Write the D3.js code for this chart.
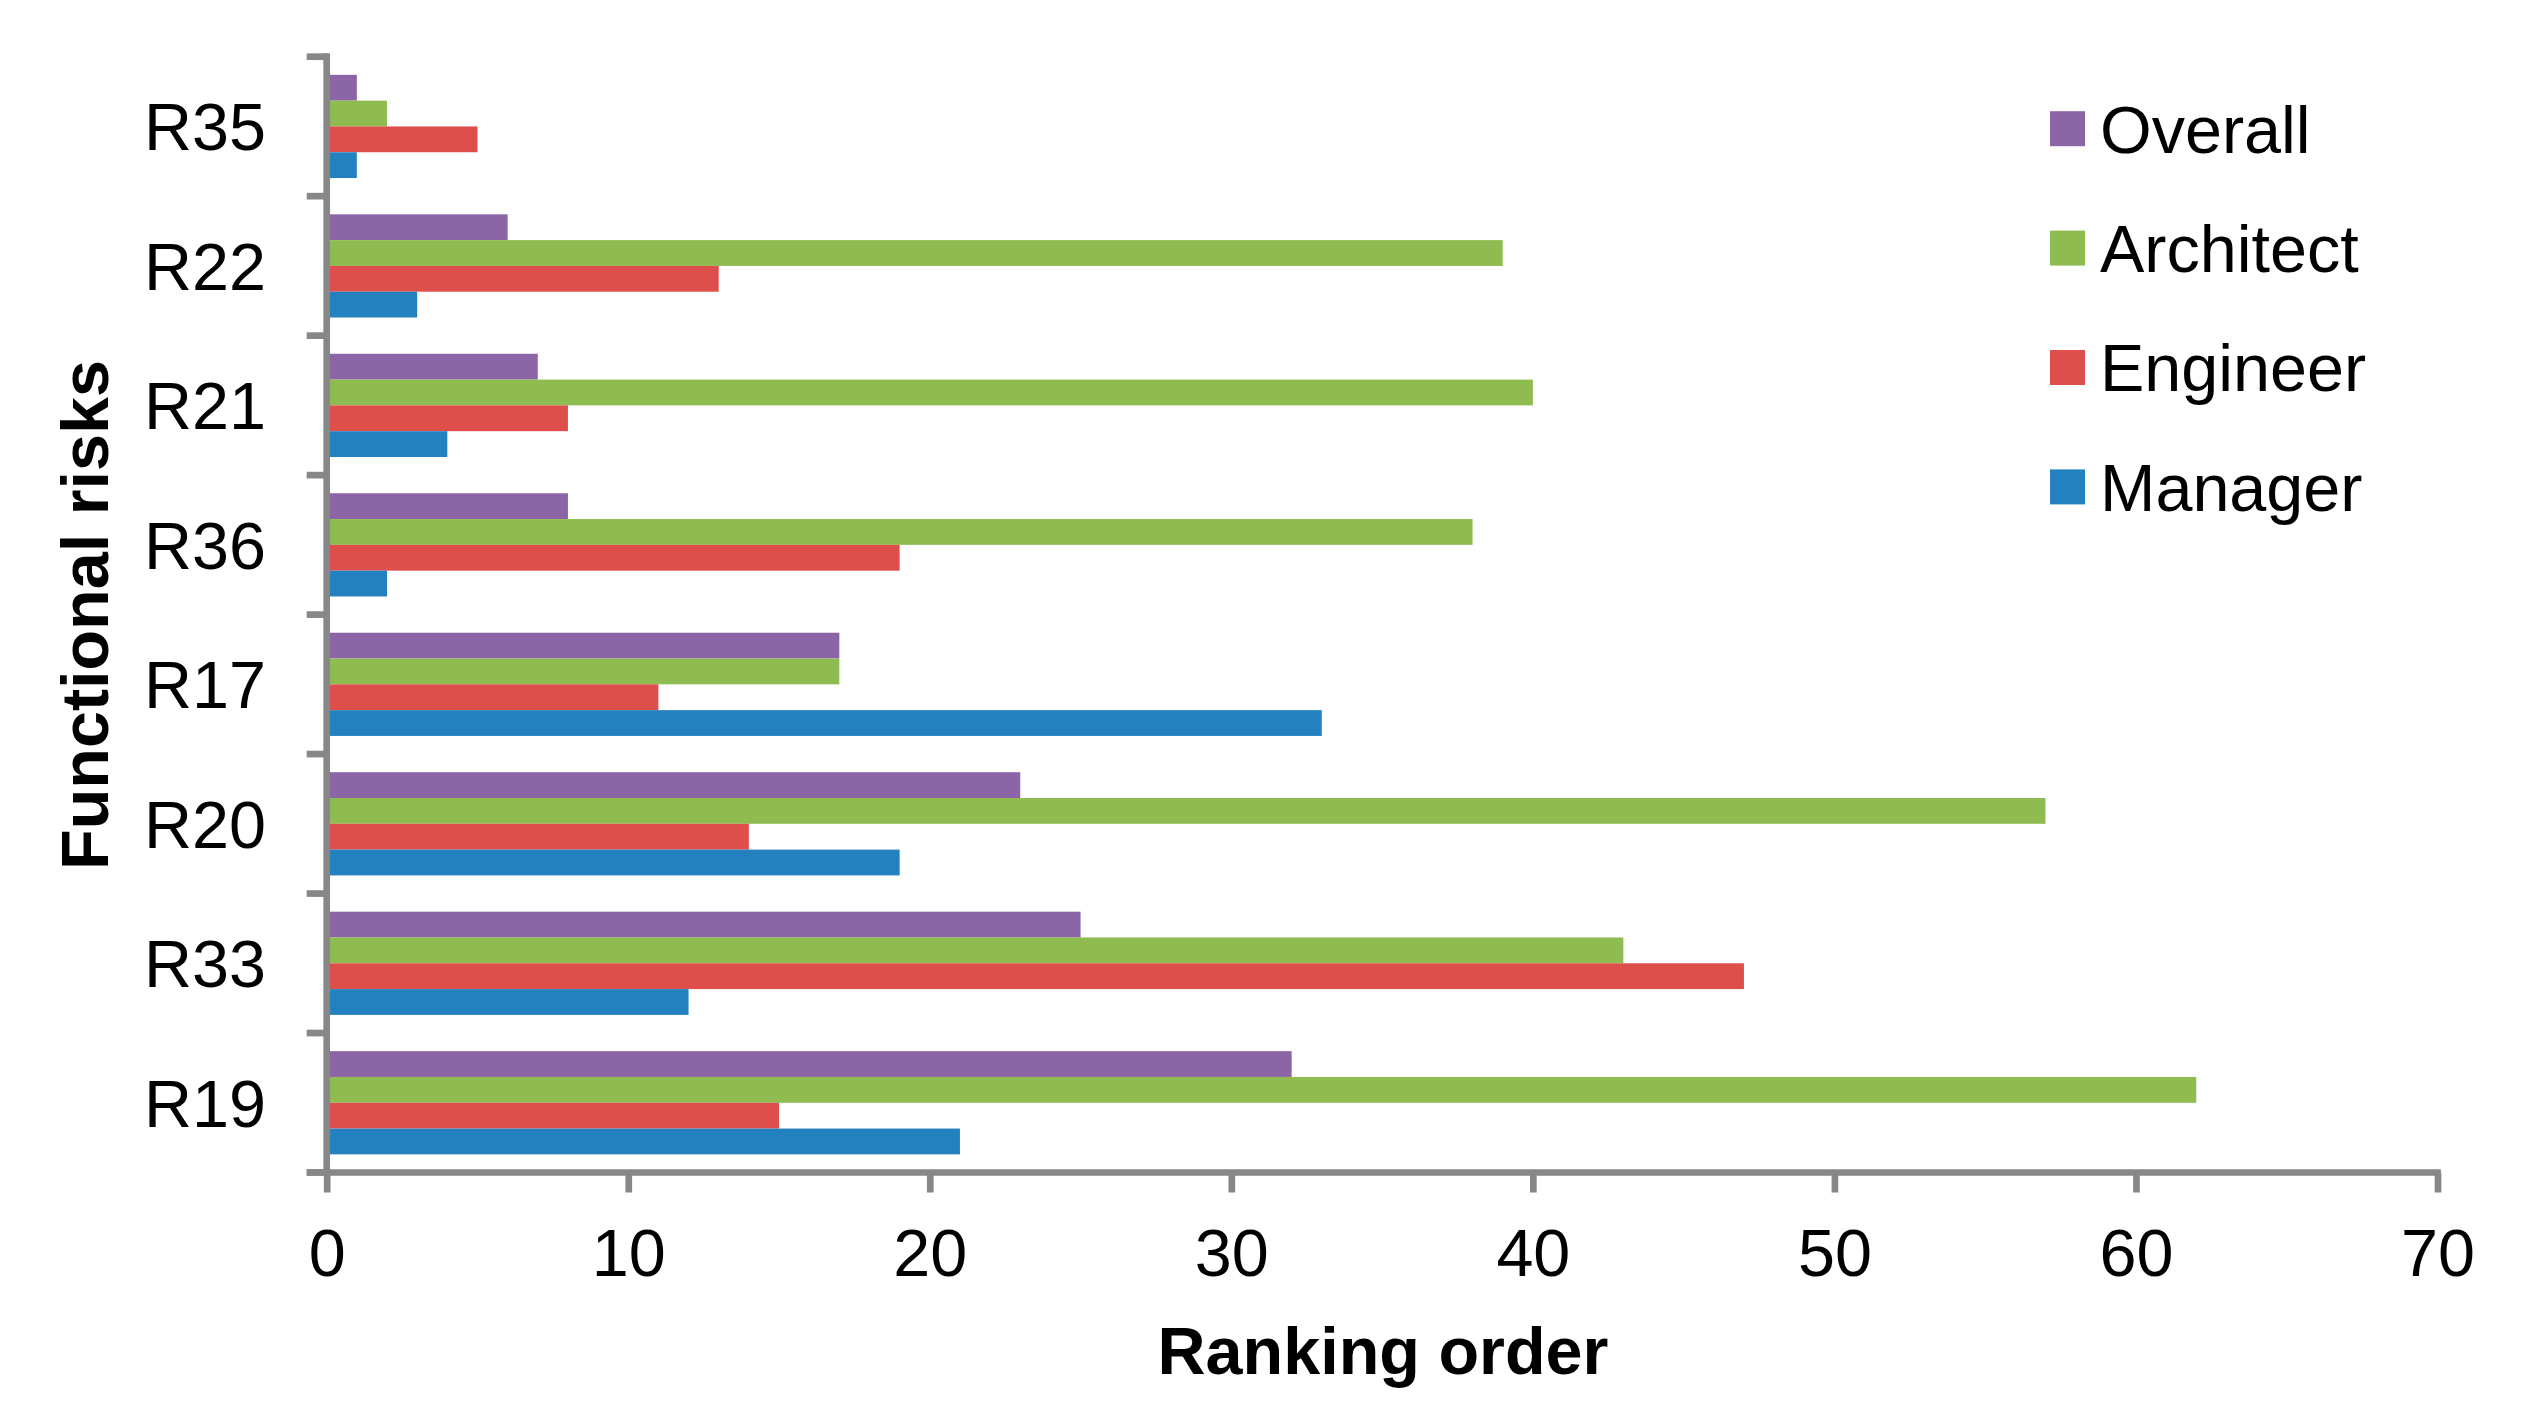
<!DOCTYPE html>
<html>
<head>
<meta charset="utf-8">
<script src="https://cdn.jsdelivr.net/npm/d3@7/dist/d3.min.js"></script>
<style>
  html, body { margin: 0; padding: 0; background: #fff; }
  svg { display: block; }
  text { font-family: "Liberation Sans", Arial, sans-serif; fill: #000; }
</style>
</head>
<body>
<svg id="chart" width="2523" height="1419"></svg>
<script>
const categories = ["R35", "R22", "R21", "R36", "R17", "R20", "R33", "R19"];
const seriesNames = ["Overall", "Architect", "Engineer", "Manager"];
const overall   = [1, 6, 7, 8, 17, 23, 25, 32];
const architect = [2, 39, 40, 38, 17, 57, 43, 62];
const engineer  = [5, 13, 8, 19, 11, 14, 47, 15];
const manager   = [1, 3, 4, 2, 33, 19, 12, 21];
const xTicks = [0, 10, 20, 30, 40, 50, 60, 70];
const colors = ["#8B65A5", "#8EBC50", "#DE4F4C", "#2481C0"];

(function () {
const seriesValues = [overall, architect, engineer, manager];

const svg = d3.select("#chart");
const pLeft = 326.7, pRight = 2437.5, pTop = 56.7, pBottom = 1172.5;
const axisColor = "#878787";
const axisW = 6.7;
const fs = 66.5;

const x = d3.scaleLinear().domain([0, 70]).range([pLeft, pRight]);
const y0 = d3.scaleBand().domain(categories).range([pTop, pBottom])
  .paddingInner(0.26).paddingOuter(0.13);
const y1 = d3.scaleBand().domain(seriesNames).range([0, y0.bandwidth()]).padding(0);
const color = d3.scaleOrdinal().domain(seriesNames).range(colors);

// bars
const groups = svg.append("g").selectAll("g")
  .data(categories)
  .join("g")
  .attr("transform", c => `translate(0,${y0(c)})`);

groups.selectAll("rect")
  .data((c, i) => seriesNames.map((s, j) => ({ s, v: seriesValues[j][i] })))
  .join("rect")
  .attr("x", x(0))
  .attr("y", d => y1(d.s))
  .attr("width", d => x(d.v) - x(0))
  .attr("height", y1.bandwidth())
  .attr("fill", d => color(d.s));

// x axis
const xAxis = d3.axisBottom(x).tickValues(xTicks).tickSize(20).tickPadding(36)
  .tickFormat(d3.format("d"));
const gx = svg.append("g").attr("transform", `translate(0,${pBottom})`).call(xAxis);
gx.select(".domain").attr("stroke", axisColor).attr("stroke-width", axisW)
  .attr("d", `M${pLeft - 20},0H${pRight + axisW / 2}`);
gx.selectAll(".tick line").attr("stroke", axisColor).attr("stroke-width", axisW);
gx.selectAll(".tick text").attr("font-size", fs)
  .attr("font-family", '"Liberation Sans", Arial, sans-serif').attr("fill", "#000");

// y axis
const step = y0.step();
const boundaries = categories.map(c => y0(c) - y0.paddingOuter() * step).concat([pBottom]);
const gy = svg.append("g");
gy.append("line").attr("x1", pLeft).attr("x2", pLeft)
  .attr("y1", pTop - axisW / 2).attr("y2", pBottom)
  .attr("stroke", axisColor).attr("stroke-width", axisW);
gy.selectAll("line.tk").data(boundaries).join("line").attr("class", "tk")
  .attr("x1", pLeft - 20).attr("x2", pLeft)
  .attr("y1", d => d).attr("y2", d => d)
  .attr("stroke", axisColor).attr("stroke-width", axisW);
gy.selectAll("text").data(categories).join("text")
  .attr("x", 266).attr("y", c => y0(c) + y0.bandwidth() / 2)
  .attr("dy", "0.36em")
  .attr("text-anchor", "end")
  .attr("font-size", fs)
  .text(c => c);

// axis titles
svg.append("text").attr("x", 1383).attr("y", 1374)
  .attr("text-anchor", "middle").attr("font-size", fs).attr("font-weight", "bold")
  .text("Ranking order");
svg.append("text").attr("transform", "translate(108,615) rotate(-90)")
  .attr("text-anchor", "middle").attr("font-size", fs).attr("font-weight", "bold")
  .text("Functional risks");

// legend
const legend = svg.append("g").selectAll("g").data(seriesNames).join("g")
  .attr("transform", (d, i) => `translate(2050,${128.7 + i * 119.4})`);
legend.append("rect").attr("x", 0).attr("y", -17.5).attr("width", 35).attr("height", 35)
  .attr("fill", d => color(d));
legend.append("text").attr("x", 50).attr("y", 0).attr("dy", "0.36em")
  .attr("font-size", fs).text(d => d);
})();
</script>
</body>
</html>
